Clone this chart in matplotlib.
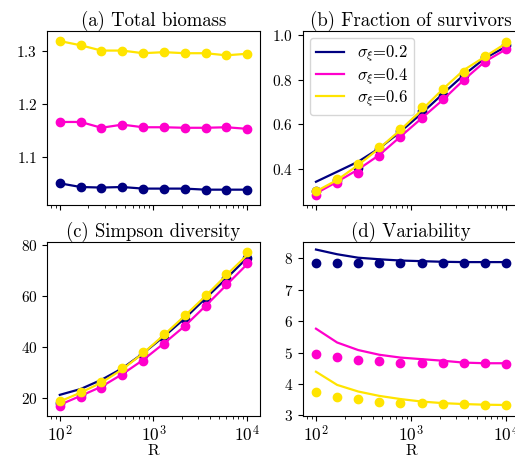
import matplotlib
matplotlib.use("Agg")
import matplotlib.pyplot as plt
import numpy as np

plt.rcParams['font.family'] = 'serif'
plt.rcParams['font.serif'] = ['cmr10']
plt.rcParams['mathtext.fontset'] = 'cm'
plt.rcParams['axes.formatter.use_mathtext'] = True
plt.rcParams['axes.unicode_minus'] = False

R = [100, 167, 278, 464, 774, 1292, 2154, 3594, 5995, 10000]
sigmas = ['0.2', '0.4', '0.6']
colors = ['#000080', '#ff00cc', '#ffe400']

# (a) total biomass: simulation points
bio_pts = [
    [1.050, 1.043, 1.042, 1.043, 1.040, 1.040, 1.040, 1.038, 1.038, 1.038],
    [1.166, 1.166, 1.155, 1.161, 1.156, 1.156, 1.155, 1.155, 1.156, 1.153],
    [1.319, 1.311, 1.301, 1.301, 1.296, 1.298, 1.296, 1.296, 1.292, 1.295],
]
bio_th = bio_pts

# (b) fraction of survivors
surv_pts = [
    [0.300, 0.350, 0.403, 0.490, 0.570, 0.660, 0.730, 0.820, 0.900, 0.955],
    [0.284, 0.336, 0.384, 0.460, 0.543, 0.627, 0.712, 0.799, 0.881, 0.936],
    [0.303, 0.355, 0.422, 0.500, 0.578, 0.676, 0.757, 0.836, 0.906, 0.967],
]
surv_th = [
    [0.343, 0.388, 0.433, 0.493, 0.567, 0.649, 0.736, 0.821, 0.896, 0.948],
    [0.291, 0.343, 0.398, 0.463, 0.545, 0.627, 0.709, 0.799, 0.881, 0.936],
    [0.300, 0.351, 0.418, 0.493, 0.575, 0.664, 0.757, 0.843, 0.903, 0.963],
]

# (c) Simpson diversity
simp_pts = [
    [18.0, 21.5, 25.5, 31.0, 37.0, 43.5, 50.8, 58.7, 66.9, 74.8],
    [17.0, 20.5, 23.8, 29.0, 34.6, 41.2, 48.2, 56.1, 64.6, 72.8],
    [18.6, 22.2, 26.4, 31.9, 37.9, 45.1, 52.4, 60.4, 68.5, 77.1],
]
simp_th = [
    [21.2, 23.5, 27.1, 31.6, 37.5, 44.1, 51.2, 59.1, 66.9, 75.0],
    [17.3, 20.8, 24.4, 29.3, 34.9, 41.4, 48.2, 56.1, 64.3, 72.5],
    [18.6, 22.1, 26.0, 31.2, 37.5, 44.7, 52.2, 60.0, 68.2, 76.1],
]

# (d) variability
var_pts = [
    [7.84, 7.84, 7.84, 7.84, 7.85, 7.85, 7.85, 7.85, 7.85, 7.85],
    [4.95, 4.86, 4.77, 4.74, 4.68, 4.68, 4.66, 4.66, 4.66, 4.65],
    [3.75, 3.60, 3.52, 3.43, 3.40, 3.38, 3.35, 3.35, 3.34, 3.34],
]
var_th = [
    [8.28, 8.13, 8.02, 7.97, 7.93, 7.91, 7.89, 7.88, 7.88, 7.88],
    [5.76, 5.32, 5.08, 4.93, 4.84, 4.79, 4.74, 4.68, 4.66, 4.66],
    [4.39, 3.97, 3.76, 3.62, 3.52, 3.44, 3.39, 3.36, 3.34, 3.33],
]

fig = plt.figure(figsize=(5.15, 4.57), dpi=100)
W, H = 515.0, 457.0
w, h = 213 / W, 174 / H
axa = fig.add_axes([47 / W, (H - 205) / H, w, h])
axb = fig.add_axes([303 / W, (H - 205) / H, 216 / W, h])
axc = fig.add_axes([47 / W, (H - 416) / H, w, h])
axd = fig.add_axes([303 / W, (H - 416) / H, 216 / W, h])

panels = [
    (axa, bio_pts, bio_th, '(a) Total biomass', (1.009, 1.338), [1.1, 1.2, 1.3]),
    (axb, surv_pts, surv_th, '(b) Fraction of survivors', (0.239, 1.018), [0.4, 0.6, 0.8, 1.0]),
    (axc, simp_pts, simp_th, '(c) Simpson diversity', (12.9, 81.2), [20, 40, 60, 80]),
    (axd, var_pts, var_th, '(d) Variability', (2.98, 8.52), [3, 4, 5, 6, 7, 8]),
]

for ax, pts, th, title, ylim, yt in panels:
    for i in range(3):
        ax.plot(R, pts[i], 'o', color=colors[i], ms=6)
        ax.plot(R, th[i], '-', color=colors[i], lw=1.6, label=r'$\sigma_\xi$=' + sigmas[i])
    ax.set_xscale('log')
    ax.set_xlim(73, 13700)
    ax.set_ylim(*ylim)
    ax.set_yticks(yt)
    ax.set_title(title, fontsize=13.5, pad=4)
    ax.tick_params(axis='y', labelsize=11)
    ax.tick_params(axis='x', labelsize=12.5, pad=2)
    ax.tick_params(which='both', top=False, right=False)

axa.tick_params(which='both', labelbottom=False)
axb.tick_params(which='both', labelbottom=False)
axc.set_xlabel('R', fontsize=11.5, labelpad=0)
axd.set_xlabel('R', fontsize=11.5, labelpad=0)

leg = axb.legend(loc='upper left', fontsize=12, handlelength=1.7, borderpad=0.35,
                 labelspacing=0.1, handletextpad=0.8, borderaxespad=0.4)

fig.savefig('out.png', dpi=100)
